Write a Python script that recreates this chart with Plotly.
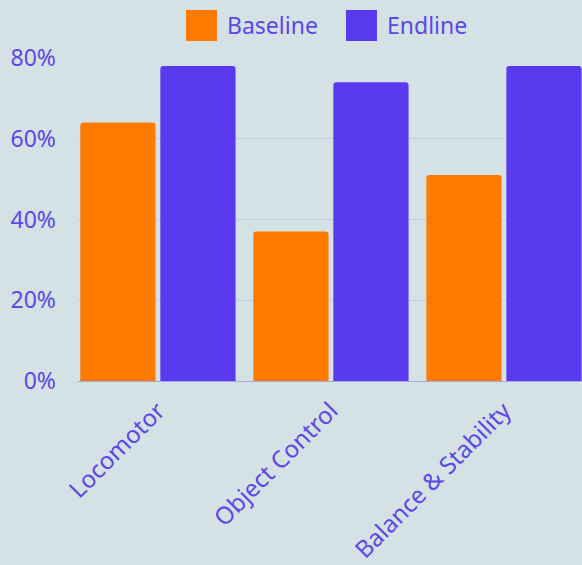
import plotly.graph_objects as go

# Motor-skill domains and share of children meeting the benchmark
categories = ["Locomotor", "Object Control", "Balance & Stability"]
baseline = [64, 37, 51]
endline = [78, 74, 78]
series_names = ["Baseline", "Endline"]
y_ticks = [0, 20, 40, 60, 80]
y_tick_labels = ["0%", "20%", "40%", "60%", "80%"]

ORANGE = "#ff7b00"
PURPLE = "#5a3aef"
TEXT = "#5c48e8"
BG = "#d4e1e5"
GRID = "#bfcce5"
FONT = "Noto Sans"

W, H = 582, 565
L, R, T, B = 78, 0, 58, 184
plot_w = W - L - R
plot_h = H - T - B

fig = go.Figure()
fig.add_trace(go.Bar(x=categories, y=baseline, name=series_names[0],
                     marker=dict(color=ORANGE, line=dict(width=0)), showlegend=False))
fig.add_trace(go.Bar(x=categories, y=endline, name=series_names[1],
                     marker=dict(color=PURPLE, line=dict(width=0)), showlegend=False))


def px_x(p):
    return (p - L) / plot_w


def px_y(p):
    return (H - B - p) / plot_h


# Legend drawn as large swatches with labels
legend_items = [(series_names[0], ORANGE, 186), (series_names[1], PURPLE, 346)]
for label, color, x0 in legend_items:
    fig.add_shape(type="rect", xref="paper", yref="paper",
                  x0=px_x(x0), x1=px_x(x0 + 31), y0=px_y(41), y1=px_y(10),
                  fillcolor=color, line=dict(width=0), layer="above")
    fig.add_annotation(xref="paper", yref="paper", x=px_x(x0 + 39), y=px_y(25.5),
                       text=label, showarrow=False, xanchor="left", yanchor="middle",
                       font=dict(family=FONT, size=23, color=TEXT))

fig.update_layout(
    width=W, height=H,
    margin=dict(l=L, r=R, t=T, b=B),
    paper_bgcolor=BG, plot_bgcolor=BG,
    barmode="group", bargap=0.075, bargroupgap=0.06,
    barcornerradius=3,
    font=dict(family=FONT, color=TEXT),
    xaxis=dict(range=[-0.462, 2.451], tickangle=-45, showgrid=False,
               tickfont=dict(size=24, color=TEXT), ticks="", ticklabelstandoff=10,
               showline=False, zeroline=False),
    yaxis=dict(range=[0, 80], tickvals=y_ticks, ticktext=y_tick_labels,
               tickfont=dict(size=23, color=TEXT), showgrid=True, gridcolor=GRID,
               gridwidth=1, zeroline=True, zerolinecolor="#a9a6ee", zerolinewidth=1,
               ticks="", ticklabelstandoff=21),
)

fig.write_html("out.html")
